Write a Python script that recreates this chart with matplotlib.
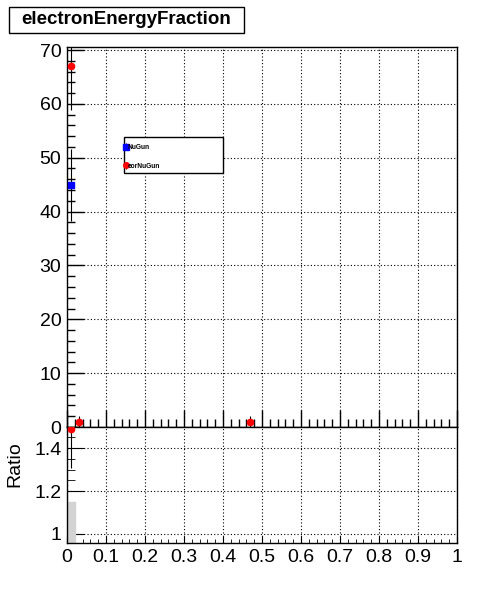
#!/usr/bin/env python3

import numpy as np
import matplotlib
matplotlib.use('Agg')
import matplotlib.pyplot as plt
from matplotlib.patches import Rectangle
from matplotlib.ticker import MultipleLocator, FixedLocator, FixedFormatter

plt.rcParams['font.family'] = ['Liberation Sans', 'DejaVu Sans']

# histogram data (bin centres, 50 bins on [0, 1])
title = 'electronEnergyFraction'
ref_label = 'NuGun'
cmp_label = 'eorNuGun'

ref_x = [0.01]
ref_y = [45]
cmp_x = [0.01, 0.03, 0.47]
cmp_y = [67, 1, 1]

ratio_x = [0.01]
ratio_y = [67 / 45]
ratio_err = [67 / 45 / np.sqrt(67)]
band_lo = [1 - 1 / np.sqrt(45)]
band_hi = [1 + 1 / np.sqrt(45)]
bin_width = 0.02

x_ticklabels = ['0', '0.1', '0.2', '0.3', '0.4', '0.5', '0.6', '0.7', '0.8', '0.9', '1']

W, H = 496, 597
fig = plt.figure(figsize=(W / 100, H / 100), dpi=100)


def px_axes(left, top, right, bottom):
    return fig.add_axes([left / W, 1 - bottom / H, (right - left) / W, (bottom - top) / H])


ax = px_axes(67, 47, 457, 427)
rax = px_axes(67, 427, 457, 543)

grid_style = dict(color='black', linestyle=(0, (1, 2)), linewidth=0.8)
err_style = dict(elinewidth=0.8, ecolor='black', capsize=0, markersize=4.5)

# top panel
ax.errorbar(ref_x, ref_y, yerr=np.sqrt(ref_y), fmt='s', color='blue',
            label=ref_label, zorder=3, **err_style)
ax.errorbar(cmp_x, cmp_y, yerr=np.sqrt(cmp_y), fmt='o', color='red',
            label=cmp_label, zorder=4, **err_style)
ax.set_xlim(0, 1)
ax.set_ylim(0, 70.56)
ax.xaxis.set_major_locator(MultipleLocator(0.1))
ax.xaxis.set_minor_locator(MultipleLocator(0.02))
ax.yaxis.set_major_locator(MultipleLocator(10))
ax.yaxis.set_minor_locator(MultipleLocator(2))
ax.tick_params(axis='x', which='both', direction='in', labelbottom=False, top=False)
ax.tick_params(axis='y', which='both', direction='in', right=False, labelsize=14, pad=4)
ax.tick_params(which='major', length=12, width=1)
ax.tick_params(which='minor', length=6, width=1)
ax.grid(True, **grid_style)
ax.set_axisbelow(True)
for s in ax.spines.values():
    s.set_linewidth(1)

# legend: frame drawn separately so its size matches the original box
ax.add_patch(Rectangle(((124 - 67) / 390, (427 - 173) / 380), 99 / 390, 36 / 380,
                       transform=ax.transAxes, facecolor='white', edgecolor='black',
                       linewidth=1, zorder=5))
leg = ax.legend(loc='upper left', bbox_to_anchor=((124 - 67 + 1) / 390, (427 - 144) / 380),
                prop=dict(size=4.8, weight='bold'), frameon=False,
                borderpad=0, handlelength=0.35, handletextpad=0.05, labelspacing=1.75,
                borderaxespad=0, markerscale=0.9)
leg.set_zorder(6)

# ratio panel
for x, lo, hi in zip(ratio_x, band_lo, band_hi):
    rax.fill_between([x - bin_width / 2, x + bin_width / 2], lo, hi, color='#d3d3d3', zorder=1)
rax.errorbar(ratio_x, ratio_y, yerr=ratio_err, fmt='o', color='red', zorder=4, **err_style)
rax.set_xlim(0, 1)
rax.set_ylim(0.958, 1.498)
rax.xaxis.set_minor_locator(MultipleLocator(0.02))
rax.yaxis.set_major_locator(FixedLocator([1.0, 1.2, 1.4]))
rax.yaxis.set_major_formatter(FixedFormatter(['1', '1.2', '1.4']))
rax.yaxis.set_minor_locator(MultipleLocator(0.05))
rax.tick_params(which='both', direction='in', top=False, right=False, labelsize=14)
rax.tick_params(axis='x', which='major', length=5, pad=4)
rax.tick_params(axis='x', which='minor', length=3)
rax.tick_params(axis='y', which='major', length=12, pad=4)
rax.tick_params(axis='y', which='minor', length=6)
rax.set_xticks(np.round(np.arange(0, 1.01, 0.1), 1))
rax.set_xticklabels(x_ticklabels)
rax.grid(True, **grid_style)
rax.set_axisbelow(True)
for s in rax.spines.values():
    s.set_linewidth(1)
rax.set_ylabel('Ratio', fontsize=14)
rax.yaxis.set_label_coords(-44 / 390, 0.68)

# title box
fig.patches.append(Rectangle((9 / W, 1 - 33 / H), 235 / W, 26 / H, transform=fig.transFigure,
                             facecolor='white', edgecolor='black', linewidth=1))
fig.text(126.5 / W, 1 - 20 / H, title, fontsize=13.5, fontweight='bold', va='center', ha='center')

fig.savefig('out.png', dpi=100)
